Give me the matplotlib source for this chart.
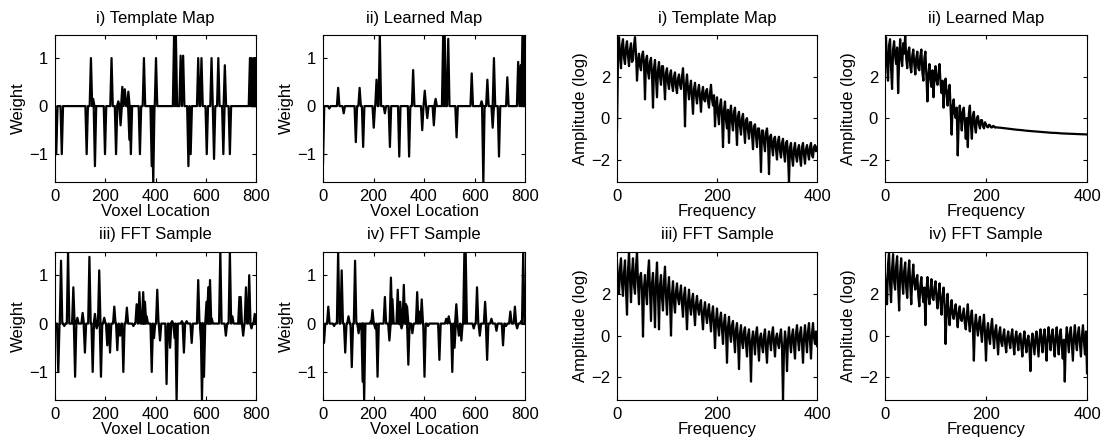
import numpy as np
import matplotlib.pyplot as plt

plt.rcParams['font.family'] = ['Liberation Sans', 'DejaVu Sans']
plt.rcParams['font.size'] = 12

# ---- weight maps: spike locations (voxel) and spike heights ----
template_loc = [5, 27, 126, 143, 152, 159, 199, 225, 243, 252, 261, 268, 278, 292, 296,
                302, 338, 354, 385, 391, 402, 474, 481, 500, 510, 531, 540, 570, 583, 604,
                623, 633, 650, 670, 676, 696, 776, 783, 787, 792, 797]
template_val = [-1.0, -1.0, -1.0, 1.0, 0.15, -1.25, -1.0, 1.0, -1.0, 0.1, -0.4, 0.4, 0.35, 0.3, -0.7,
                -1.0, -1.0, 1.0, -1.25, -1.6, 1.0, 1.5, 1.5, 1.05, 1.05, -1.25, -1.0, 1.0, 1.0, -1.0,
                1.0, -1.1, 1.0, -1.0, 0.85, -1.0, 1.0, 1.0, 0.3, 1.0, 1.0]

learned_loc = [0, 25, 60, 82, 130, 145, 159, 201, 212, 225, 245, 265, 302, 341, 357, 393,
               403, 413, 439, 446, 476, 482, 496, 529, 589, 628, 635, 651, 672, 677, 697,
               730, 773, 783, 790, 797]
learned_val = [-1.2, -0.05, 0.38, -0.15, -0.75, 0.38, -0.85, -0.45, 0.55, 1.5, -0.15, -0.85,
               -1.05, -1.05, 0.75, -0.5, 0.32, -0.25, -0.4, 0.15, 1.5, 1.5, 1.4, -0.65, 0.68,
               0.1, -1.6, 0.55, -0.45, 1.0, -1.05, 0.6, 0.92, 0.85, 1.5, 1.5]

sample3_loc = [13, 24, 37, 52, 73, 80, 89, 110, 119, 137, 150, 159, 166, 176, 183, 196, 208,
               219, 236, 248, 259, 272, 286, 312, 325, 336, 345, 351, 358, 365, 385, 394, 407,
               418, 444, 458, 466, 476, 484, 505, 513, 524, 544, 570, 583, 585, 593, 603, 610,
               617, 624, 658, 680, 696, 706, 734, 739, 749, 760, 773, 782, 795]
sample3_val = [-1.0, 1.3, -0.05, 1.5, 0.75, -1.1, 0.12, 0.22, -0.6, 1.38, -1.0, 0.2, -0.1, 1.1,
               -1.1, 0.12, -0.45, -0.6, 0.35, -0.55, -0.25, -1.0, 0.33, -0.05, 0.4, 0.65, 0.2,
               0.65, 0.45, 0.15, -1.0, -0.3, 0.7, -0.35, -1.25, -0.5, 0.05, -0.3, -1.6, 0.05,
               -0.6, 0.05, -0.4, 0.9, -0.5, -1.6, -1.1, 0.45, 0.75, 0.9, 0.1, 1.5, -0.25, 1.5,
               0.15, 0.55, 0.55, -0.25, 0.75, 1.0, -0.1, 0.2]

sample4_loc = [4, 21, 44, 60, 74, 88, 101, 114, 127, 141, 150, 157, 163, 190, 196, 207, 216,
               245, 263, 269, 275, 296, 302, 306, 311, 320, 329, 333, 338, 354, 373, 380, 391,
               402, 416, 461, 488, 498, 512, 521, 528, 538, 548, 560, 565, 597, 610, 621, 642,
               650, 667, 687, 713, 725, 742, 760, 769, 785, 793]
sample4_val = [-0.4, 0.35, -0.05, 1.5, 1.1, -0.6, 0.15, -0.9, 1.3, -0.2, -0.1, -1.2, -1.6,
               0.05, 0.28, -0.1, -1.1, 0.55, -0.35, 0.95, 0.5, 0.7, 0.1, 0.45, -0.1, 0.8, 0.4,
               0.35, -0.85, -0.2, 0.65, 0.25, 0.5, -1.1, -0.05, -0.75, 0.1, 0.15, -1.0, -0.5,
               0.4, -0.25, -0.35, 1.5, 1.5, -0.1, 0.75, -0.25, 0.45, -0.75, 0.1, -0.15, -0.45,
               -0.05, 0.25, 0.35, -0.1, 0.05, 1.5]

# ---- log amplitude spectra, every 2 frequency bins from 0 to 400 ----
template_spec = [
    -0.6, 2.8, 3.9, 3.0, 2.4, 3.5, 3.8, 2.9, 2.6, 3.4,
    3.7, 3.0, 2.5, 3.3, 3.6, 2.7, 2.8, 3.5, 3.9, 3.1,
    1.8, 2.7, 3.1, 2.5, 2.3, 3.0, 3.2, 2.6, 0.9, 2.8,
    3.0, 2.2, 1.9, 2.7, 2.9, 2.1, 0.5, 2.4, 2.8, 1.9,
    1.0, 2.3, 2.7, 2.0, 1.6, 2.5, 2.5, 1.8, 0.9, 2.2,
    2.4, 1.7, 1.4, 2.1, 2.3, 1.6, 1.3, 2.0, 2.2, 1.5,
    1.2, 1.9, 2.1, 1.6, 1.4, 2.0, 2.4, 1.5, -0.4, 1.6,
    2.1, 1.4, 0.9, 1.5, 1.8, 1.0, 0.2, 1.4, 1.7, 1.1,
    0.7, 1.3, 1.6, 1.0, 0.3, 1.2, 1.5, 0.9, 0.8, 1.3,
    1.4, 0.8, 0.5, 1.2, 1.6, 0.9, 0.6, 1.1, -0.4, 0.6,
    1.0, 0.2, -0.3, 0.6, 0.9, 0.1, -1.4, 0.4, 0.8, -0.1,
    -0.5, 0.4, -1.2, 0.2, 0.6, -0.2, -0.6, 0.3, 0.5, -0.3,
    -1.3, 0.1, 0.3, -0.4, -0.8, 0.0, 0.2, -0.5, -1.2, -0.1,
    0.0, -0.6, -1.0, -0.2, -0.2, -0.8, -1.5, -0.4, -0.3, -0.9,
    -1.4, -0.5, -0.5, -1.1, -2.6, -0.6, -0.6, -1.2, -1.6, -0.7,
    -0.5, -1.1, -2.7, -0.9, -0.8, -1.4, -1.8, -1.0, -0.9, -1.5,
    -2.0, -1.1, -0.9, -1.6, -1.9, -1.2, -1.0, -1.7, -2.1, -1.2,
    -1.1, -1.8, -3.1, -1.4, -1.2, -1.9, -2.3, -1.5, -1.2, -1.8,
    -2.1, -1.5, -1.3, -1.9, -2.3, -1.4, -1.2, -1.8, -2.2, -1.5,
    -1.3, -1.7, -2.0, -1.4, -1.2, -1.8, -1.9, -1.4, -1.3, -1.6,
    -1.4]

# learned map: noisy part every 2 bins up to 220, then the smooth tail every 10 bins
learned_freq = list(range(0, 221, 2)) + list(range(230, 401, 10))
learned_spec = [
    3.2, 3.9, 2.6, 1.8, 3.5, 3.8, 2.4, 1.4, 3.3, 3.7,
    3.0, 2.6, 3.4, 1.2, 2.8, 3.8, 2.9, 2.5, 3.6, 3.1,
    4.0, 2.9, 2.4, 3.2, 3.4, 2.5, 2.2, 3.0, 3.3, 2.6,
    2.1, 2.9, 3.2, 2.4, 2.3, 3.0, 3.3, 2.2, 1.8, 2.9,
    3.2, 2.0, 0.8, 2.1, 2.6, 1.9, 1.5, 2.3, 1.0, 2.0,
    2.5, 1.8, 1.6, 2.2, 2.6, 1.7, 1.2, 1.8, 0.5, 1.4,
    1.9, 1.2, 0.6, 1.3, 1.6, 0.4, -0.8, 0.6, 0.9, 0.2,
    0.0, 0.5, -1.8, -0.2, 0.6, 0.1, -0.6, 0.3, 0.5, -0.2,
    -1.0, 0.0, -1.4, 0.2, 0.6, -0.3, -1.0, 0.1, 0.3, -0.4,
    -0.7, 0.0, 0.1, -0.3, -0.5, -0.1, -0.1, -0.4, -0.5, -0.2,
    -0.3, -0.42, -0.45, -0.32, -0.35, -0.45, -0.45, -0.38, -0.4, -0.46,
    -0.45,
    -0.47, -0.50, -0.53, -0.56, -0.58, -0.61, -0.63, -0.65, -0.67, -0.69,
    -0.71, -0.72, -0.74, -0.75, -0.76, -0.77, -0.78, -0.79]

sample3_spec = [
    3.5, 2.6, 2.0, 3.2, 3.7, 2.5, 1.9, 3.0, 3.6, 2.2,
    1.0, 3.1, 4.0, 2.7, 1.6, 3.0, 3.7, 2.4, 2.0, 3.3,
    4.0, 2.5, 1.5, 2.8, 3.0, 2.2, -0.05, 2.3, 2.9, 2.0,
    1.5, 3.0, 3.6, 2.1, 0.7, 2.5, 3.0, 1.9, 0.4, 2.6,
    3.5, 2.0, 0.3, 2.4, 2.9, 1.8, 1.2, 2.6, 3.3, 1.9,
    1.0, 2.2, 2.8, 1.7, 0.0, 2.0, 2.6, 1.6, 1.1, 2.1,
    2.5, 1.8, 1.5, 2.0, 2.4, 1.5, 0.9, 1.9, 2.3, 1.4,
    0.3, 1.6, 2.2, 1.4, 1.0, 1.7, 2.0, 1.2, 0.5, 1.5,
    1.9, 1.3, 1.0, 1.5, 1.7, 0.9, 0.3, 1.2, 1.6, 1.0,
    0.6, 1.2, 1.5, 0.8, 0.2, 1.0, 1.4, 0.6, -0.6, 0.7,
    1.3, 0.5, 0.0, 0.8, 1.1, 0.3, -0.4, 0.6, 1.0, 0.2,
    -1.3, 0.4, 0.9, 0.1, -0.3, 0.5, 0.7, -0.1, -0.8, 0.3,
    0.6, -0.2, -1.6, 0.1, 0.5, -0.3, -0.6, 0.2, 0.4, -0.4,
    -1.0, 0.0, 0.3, -0.5, -2.2, -0.2, 0.2, -0.3, -0.9, 0.1,
    0.4, -0.4, -1.2, -0.1, 0.1, -0.5, -0.8, 0.0, 0.3, -0.6,
    -1.3, -0.2, 0.2, -0.3, -0.7, 0.1, 0.4, -0.4, -1.0, -0.1,
    0.1, -0.4, -0.6, 0.0, 0.3, -0.5, -3.1, -0.6, 0.2, -0.3,
    -1.7, -0.2, 0.4, -0.3, -0.8, 0.0, 0.3, -0.5, -1.1, 0.1,
    0.5, -0.2, -0.7, 0.1, 0.4, -0.4, -1.3, -0.1, 0.5, -0.2,
    -0.8, 0.2, 0.6, -0.3, -1.1, 0.1, 0.6, -0.1, -0.4, 0.2,
    -0.5]

sample4_spec = [
    3.0, 2.2, 1.5, 3.4, 4.0, 2.5, 1.6, 3.2, 3.9, 2.6,
    2.2, 3.3, 3.8, 2.4, 1.2, 3.0, 3.7, 2.6, 2.0, 3.1,
    3.5, 2.3, 1.8, 3.0, 3.6, 2.4, 1.5, 2.8, 3.4, 2.5,
    2.2, 2.7, 2.9, 1.9, 1.4, 2.4, 2.8, 2.0, 1.6, 2.3,
    0.5, 2.1, 2.8, 1.9, 1.5, 2.2, 2.7, 1.8, 1.7, 2.3,
    2.6, 1.8, 1.3, 2.0, 2.5, 1.6, 1.0, 1.9, 2.3, 1.5,
    -0.4, 1.2, 2.0, 1.0, 0.5, 1.3, 1.7, 1.0, 0.8, 1.2,
    1.5, 0.9, 0.4, 1.1, 1.4, 0.8, 0.7, 1.0, 1.3, 0.6,
    0.3, 1.0, 1.5, 0.7, 0.2, 0.9, 1.2, 0.4, -1.2, 0.5,
    1.0, 0.4, 0.0, 0.6, 0.9, 0.2, -0.3, 0.5, 1.0, 0.1,
    -1.2, 0.2, 0.6, -0.1, -0.4, 0.4, 0.8, 0.0, -0.6, 0.2,
    0.5, -0.2, -0.9, 0.1, 0.4, -0.3, -0.5, 0.0, 0.3, -0.4,
    -0.8, -0.1, 0.2, -0.3, -0.6, 0.0, 0.3, -0.4, -0.9, -0.1,
    0.2, -0.3, -0.7, 0.0, 0.1, -0.5, -1.0, -0.2, 0.2, -0.4,
    -0.8, -0.2, 0.0, -0.6, -1.7, -0.3, 0.1, -0.4, -0.9, -0.1,
    0.2, -0.4, -1.0, -0.1, 0.3, -0.3, -0.8, 0.0, 0.3, -0.5,
    -1.2, -0.1, 0.4, -0.2, -0.7, 0.0, 0.3, -0.4, -1.0, -0.1,
    0.4, -0.3, -0.9, 0.0, 0.3, -0.5, -1.1, -0.2, -2.2, -0.3,
    0.4, -0.2, -0.8, 0.1, 0.4, -0.4, -1.2, -0.1, 0.5, -0.3,
    -0.7, 0.1, 0.4, -0.4, -1.0, 0.0, 0.5, -0.3, -0.9, 0.2,
    -1.8]

titles_top = ['i) Template Map', 'ii) Learned Map']
titles_bot = ['iii) FFT Sample', 'iv) FFT Sample']


def spike_line(loc, val, half=5):
    # 0-baseline polyline with a narrow triangle at every spike
    xs, ys = [0], [0]
    for x, v in zip(loc, val):
        xs += [x - half, x, x + half]
        ys += [0, v, 0]
    xs.append(800)
    ys.append(0)
    return xs, ys


def style(ax):
    ax.tick_params(direction='in', length=3, top=True, right=True, width=0.8, pad=5)
    for s in ax.spines.values():
        s.set_linewidth(0.8)


fig = plt.figure(figsize=(11.08, 4.45), dpi=100)
lefts = [55, 323, 617, 885]
widths = [201, 202, 200, 202]
rows = [(35, 182), (252, 400)]


def make_ax(col, row):
    top, bot = rows[row]
    return fig.add_axes([lefts[col] / 1108, 1 - bot / 445, widths[col] / 1108, (bot - top) / 445])


weights = [[(template_loc, template_val), (learned_loc, learned_val)],
           [(sample3_loc, sample3_val), (sample4_loc, sample4_val)]]
specs = [[(None, template_spec), (learned_freq, learned_spec)],
         [(None, sample3_spec), (None, sample4_spec)]]
titles = [titles_top, titles_bot]

for r in range(2):
    for c in range(2):
        ax = make_ax(c, r)
        xs, ys = spike_line(*weights[r][c])
        ax.plot(xs, ys, color='black', lw=1.6)
        ax.set_xlim(0, 800)
        ax.set_ylim(-1.58, 1.48)
        ax.set_xticks([0, 200, 400, 600, 800])
        ax.set_yticks([-1, 0, 1])
        ax.set_yticklabels(['\u22121', '0', '1'])
        ax.set_xlabel('Voxel Location', labelpad=0)
        ax.set_ylabel('Weight', labelpad=2)
        ax.set_title(titles[r][c], fontsize=12, pad=9)
        style(ax)

        ax = make_ax(c + 2, r)
        fq, sp = specs[r][c]
        if fq is None:
            fq = np.linspace(0, 400, len(sp))
        ax.plot(fq, sp, color='black', lw=1.6)
        ax.set_xlim(0, 400)
        ax.set_ylim(-3.08, 4.0)
        ax.set_xticks([0, 200, 400])
        ax.set_yticks([-2, 0, 2])
        ax.set_yticklabels(['\u22122', '0', '2'])
        ax.set_xlabel('Frequency', labelpad=0)
        ax.set_ylabel('Amplitude (log)', labelpad=2)
        ax.set_title(titles[r][c], fontsize=12, pad=9)
        style(ax)

fig.savefig('out.png', dpi=100)
